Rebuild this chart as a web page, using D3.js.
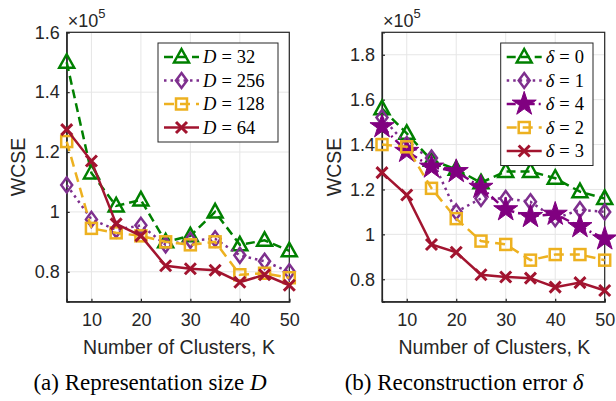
<!DOCTYPE html>
<html>
<head>
<meta charset="utf-8">
<script src="https://cdn.jsdelivr.net/npm/d3@7"></script>
<style>
body { margin: 0; background: #fff; }
text { font-family: "Liberation Sans", Arial, sans-serif; fill: #262626; }
.serif { font-family: "Liberation Serif", "DejaVu Serif", serif; fill: #000; }
</style>
</head>
<body>
<div id="chart"></div>
<script>
var clusters = [5, 10, 15, 20, 25, 30, 35, 40, 45, 50];
var xTicks = [10, 20, 30, 40, 50];

// panel (a): representation size D
var d32  = [1.50, 1.13, 1.02, 1.04, 0.90, 0.92, 1.00, 0.89, 0.905, 0.87];
var d256 = [1.09, 0.975, 0.94, 0.955, 0.89, 0.905, 0.91, 0.855, 0.835, 0.80];
var d128 = [1.235, 0.945, 0.93, 0.92, 0.90, 0.89, 0.90, 0.79, 0.795, 0.78];
var d64  = [1.275, 1.17, 0.96, 0.92, 0.82, 0.81, 0.805, 0.765, 0.79, 0.755];
var yTicksA = [0.8, 1, 1.2, 1.4, 1.6];

// panel (b): reconstruction error delta
var e0 = [1.56, 1.45, 1.33, 1.29, 1.23, 1.28, 1.28, 1.25, 1.19, 1.16];
var e1 = [1.52, 1.40, 1.34, 1.10, 1.16, 1.16, 1.145, 1.07, 1.11, 1.10];
var e4 = [1.48, 1.37, 1.30, 1.28, 1.21, 1.11, 1.08, 1.09, 1.035, 0.98];
var e2 = [1.40, 1.39, 1.205, 1.07, 0.97, 0.955, 0.885, 0.91, 0.91, 0.885];
var e3 = [1.275, 1.175, 0.955, 0.92, 0.82, 0.81, 0.805, 0.765, 0.785, 0.75];
var yTicksB = [0.8, 1, 1.2, 1.4, 1.6, 1.8];

var green = "#008000", purple = "#7E2F8E", yellow = "#EDB120", red = "#A2142F", star = "#800080";

var svg = d3.select("#chart").append("svg")
	.attr("width", 616)
	.attr("height", 401);

function marker(g, type, color, x, y) {
	if (type == "tri") {
		g.append("path").attr("d", "M" + x + "," + (y - 8) + "L" + (x + 7.5) + "," + (y + 5.5) + "L" + (x - 7.5) + "," + (y + 5.5) + "Z")
			.attr("fill", "none").attr("stroke", color).attr("stroke-width", 2.5);
	} else if (type == "dia") {
		g.append("path").attr("d", "M" + x + "," + (y - 7.5) + "L" + (x + 5.5) + "," + y + "L" + x + "," + (y + 7.5) + "L" + (x - 5.5) + "," + y + "Z")
			.attr("fill", "none").attr("stroke", color).attr("stroke-width", 2.5);
	} else if (type == "sq") {
		g.append("rect").attr("x", x - 5.5).attr("y", y - 5.5).attr("width", 11).attr("height", 11)
			.attr("fill", "none").attr("stroke", color).attr("stroke-width", 2.5);
	} else if (type == "x") {
		g.append("path").attr("d", "M" + (x - 5.5) + "," + (y - 5.5) + "L" + (x + 5.5) + "," + (y + 5.5) + "M" + (x - 5.5) + "," + (y + 5.5) + "L" + (x + 5.5) + "," + (y - 5.5))
			.attr("stroke", color).attr("stroke-width", 3);
	} else if (type == "star") {
		g.append("path").attr("d", d3.symbol(d3.symbolStar, 180)())
			.attr("transform", "translate(" + x + "," + y + ")")
			.attr("fill", color).attr("stroke", color).attr("stroke-width", 1);
	}
}

function drawPanel(p) {
	var x = d3.scaleLinear().domain([5, 50]).range([p.left, p.right]);
	var y = d3.scaleLinear().domain(p.ydom).range([301.7, 32.3]);
	var g = svg.append("g");

	// grid
	g.selectAll(".gx").data(xTicks).enter().append("line")
		.attr("x1", function(d){ return x(d); }).attr("x2", function(d){ return x(d); })
		.attr("y1", y.range()[0]).attr("y2", y.range()[1])
		.attr("stroke", "#e6e6e6").attr("stroke-width", 1);
	g.selectAll(".gy").data(p.yticks).enter().append("line")
		.attr("x1", p.left).attr("x2", p.right)
		.attr("y1", function(d){ return y(d); }).attr("y2", function(d){ return y(d); })
		.attr("stroke", "#e6e6e6").attr("stroke-width", 1);

	// axes (ticks inward, box)
	var ax = g.append("g").attr("transform", "translate(0," + y.range()[0] + ")")
		.call(d3.axisBottom(x).tickValues(xTicks).tickSize(-3).tickPadding(12).tickFormat(d3.format("d")));
	var ay = g.append("g").attr("transform", "translate(" + p.left + ",0)")
		.call(d3.axisLeft(y).tickValues(p.yticks).tickSize(-3).tickPadding(7).tickFormat(function(d){ return d == 1 ? "1" : d3.format(".1f")(d); }));
	[ax, ay].forEach(function(a) {
		a.selectAll("path,line").attr("stroke", "#262626").attr("stroke-width", 1.2);
		a.selectAll("text").attr("font-size", 18).attr("fill", "#262626")
			.style("font-family", "'Liberation Sans', Arial, sans-serif");
	});
	g.append("rect").attr("x", p.left).attr("y", y.range()[1])
		.attr("width", p.right - p.left).attr("height", y.range()[0] - y.range()[1])
		.attr("fill", "none").attr("stroke", "#262626").attr("stroke-width", 1.2);

	// exponent
	var ex = g.append("text").attr("x", p.left + 1).attr("y", 26.5).attr("font-size", 18);
	ex.append("tspan").text("\u00d710");
	ex.append("tspan").attr("dy", -9).attr("font-size", 13).text("5");

	// series
	var line = d3.line().x(function(d){ return x(d[0]); }).y(function(d){ return y(d[1]); });
	p.series.forEach(function(s) {
		var pts = clusters.map(function(k, i){ return [k, s.values[i]]; });
		g.append("path").datum(pts).attr("d", line)
			.attr("fill", "none").attr("stroke", s.color).attr("stroke-width", 2.5)
			.attr("stroke-dasharray", s.dash);
		pts.forEach(function(d){ marker(g, s.marker, s.color, x(d[0]), y(d[1])); });
	});

	// legend
	var lg = g.append("g");
	lg.append("rect").attr("x", p.leg[0]).attr("y", 43).attr("width", p.leg[1]).attr("height", p.series.length * 23.5 + 5)
		.attr("fill", "#fff").attr("stroke", "#262626").attr("stroke-width", 1);
	p.series.forEach(function(s, i) {
		var yy = 57 + i * 23.5;
		var x0 = p.leg[0] + 6, x1 = x0 + 35;
		lg.append("line").attr("x1", x0).attr("x2", x1).attr("y1", yy).attr("y2", yy)
			.attr("stroke", s.color).attr("stroke-width", 2.5).attr("stroke-dasharray", s.dash);
		marker(lg, s.marker, s.color, (x0 + x1) / 2, yy);
		var t = lg.append("text").attr("class", "serif").attr("x", x1 + 4).attr("y", yy + 6).attr("font-size", 18.5);
		t.append("tspan").attr("font-style", "italic").text(p.sym);
		t.append("tspan").attr("dx", 5).text("=");
		t.append("tspan").attr("dx", 5).text(s.label);
	});

	// labels
	g.append("text").attr("transform", "translate(" + p.ylab + ",167) rotate(-90)")
		.attr("text-anchor", "middle").attr("font-size", 19.5).text("WCSE");
	g.append("text").attr("x", (p.left + p.right) / 2 + 1).attr("y", 354).attr("text-anchor", "middle")
		.attr("font-size", 19.5).text("Number of Clusters, K");
	var cap = g.append("text").attr("class", "serif").attr("x", p.cap).attr("y", 390).attr("text-anchor", "middle").attr("font-size", 23);
	cap.append("tspan").text(p.caption + " ");
	cap.append("tspan").attr("font-style", "italic").text(p.sym);
}

drawPanel({
	left: 66.7, right: 289.3, ydom: [0.7, 1.6], yticks: yTicksA, ylab: 25, cap: 150,
	leg: [158, 120], sym: "D", caption: "(a) Representation size",
	series: [
		{ values: d32, label: "32", color: green, marker: "tri", dash: "9,5" },
		{ values: d256, label: "256", color: purple, marker: "dia", dash: "2.5,4" },
		{ values: d128, label: "128", color: yellow, marker: "sq", dash: "10,6" },
		{ values: d64, label: "64", color: red, marker: "x", dash: null }
	]
});

drawPanel({
	left: 382, right: 604.7, ydom: [0.7, 1.9], yticks: yTicksB, ylab: 341, cap: 464,
	leg: [500.7, 92.3], sym: "\u03b4", caption: "(b) Reconstruction error",
	series: [
		{ values: e0, label: "0", color: green, marker: "tri", dash: "9,5" },
		{ values: e1, label: "1", color: purple, marker: "dia", dash: "2.5,4" },
		{ values: e4, label: "4", color: star, marker: "star", dash: "9,4,2,4" },
		{ values: e2, label: "2", color: yellow, marker: "sq", dash: "10,6" },
		{ values: e3, label: "3", color: red, marker: "x", dash: null }
	]
});
</script>
</body>
</html>
